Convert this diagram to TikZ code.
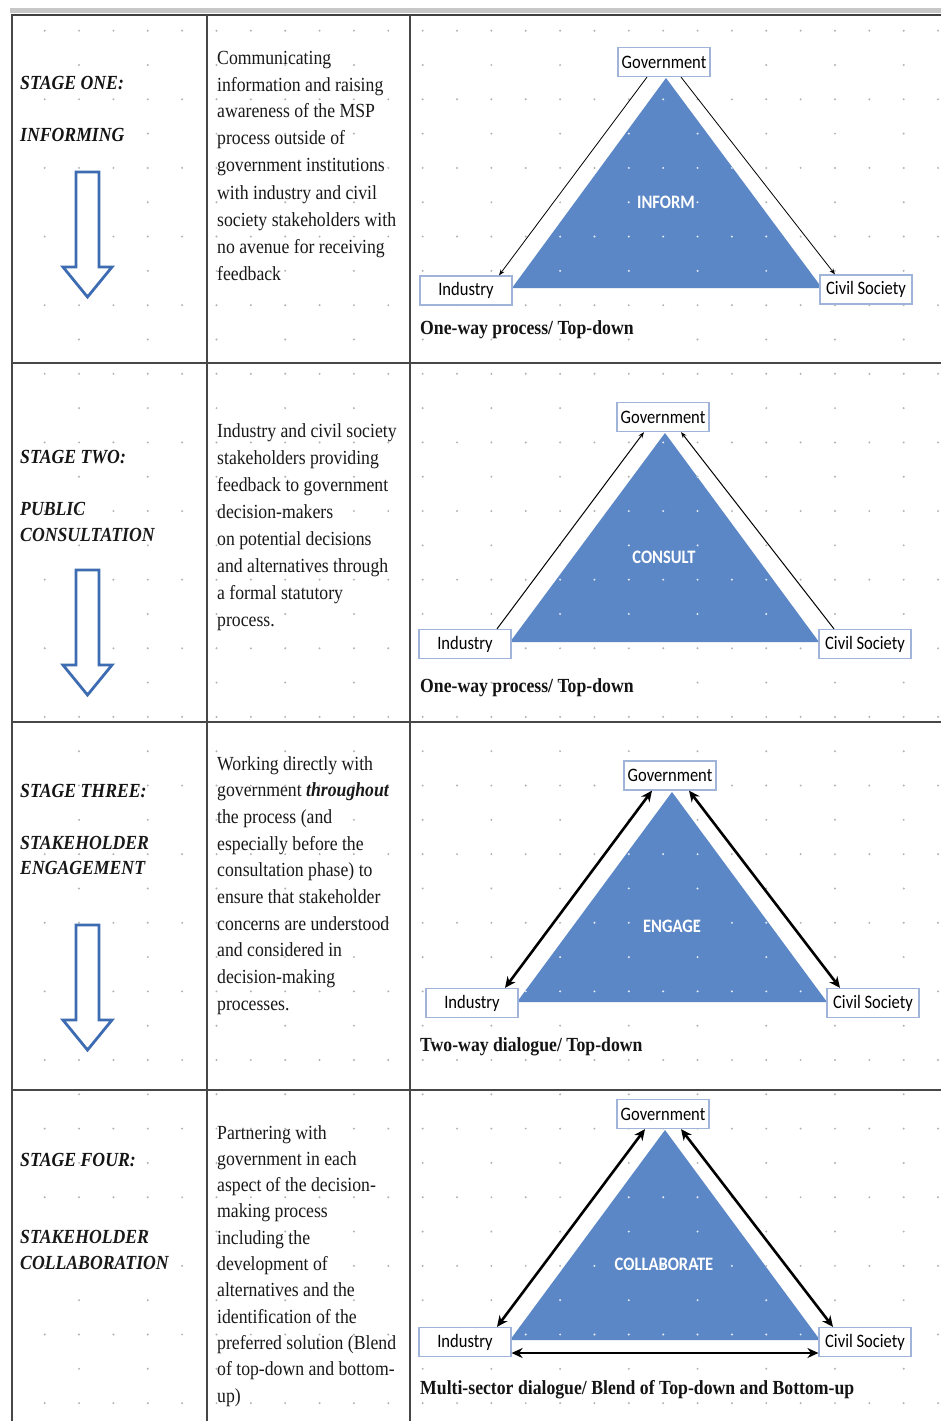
\documentclass[tikz,border=0pt]{standalone}
\usepackage{fontspec}
\setmainfont{Liberation Serif}[FakeStretch=0.885]
\newfontfamily\calib{Carlito}[FakeStretch=0.87]
\usetikzlibrary{arrows.meta,calc}
\definecolor{triblue}{RGB}{91,135,198}
\definecolor{boxline}{RGB}{160,180,218}
\definecolor{arrblue}{RGB}{62,108,178}
\definecolor{dotgray}{RGB}{178,178,178}
\newcommand\mydots[1]{%
 \foreach \k in {0,...,20}{\foreach \j in {0,...,26}{\fill[#1] ({44.7+34.36*\j},{30.7+68.62*\k}) circle (1.1pt);}}%
 \foreach \k in {0,...,19}{\foreach \j in {0,...,12}{\fill[#1] ({79.06+68.72*\j},{65.01+68.62*\k}) circle (1.1pt);}}%
}
\newcommand\mybody[2]{\parbox[t]{200pt}{\fontsize{20}{#1}\selectfont\raggedright #2}}
\newcommand\mytitle[2]{\parbox[t]{180pt}{\fontsize{20}{#1}\selectfont\bfseries\itshape #2}}
\tikzset{
 actor/.style={draw=boxline, line width=1.2pt, fill=white, font=\calib\fontsize{19}{22}\selectfont, minimum width=92pt, minimum height=29pt, inner sep=0pt, text=black},
 trilabel/.style={font=\calib\fontsize{19}{22}\selectfont\bfseries, text=white, inner sep=0pt},
 body/.style={anchor=base west, inner sep=0pt, text=black!90},
 stagelbl/.style={anchor=base west, inner sep=0pt, font=\fontsize{20}{25}\selectfont\bfseries\itshape, text=black!92},
 capt/.style={anchor=base west, inner sep=0pt, font=\fontsize{20}{24}\selectfont\bfseries, text=black!92},
 thinarr/.style={line width=0.8pt, -{Stealth[length=6pt,width=4.5pt]}},
 thickarr/.style={line width=2.6pt, {Stealth[length=11pt,width=10pt]}-{Stealth[length=11pt,width=10pt]}},
 downarr/.style={draw=arrblue, line width=2.8pt, fill=white, line join=miter},
 tri/.style={fill=triblue},
 rulegrid/.style={draw=black!72, line width=1.6pt},
}
\begin{document}
\begin{tikzpicture}[x=1pt,y=-1pt]
\useasboundingbox (0,0) rectangle (941,1421);
\fill[white] (0,0) rectangle (941,1421);
% grid dots
\mydots{dotgray}
% table rules
\fill[black!22] (10,8) rectangle (941,13);
\draw[black!75, line width=1.6pt] (11,15) -- (941,15);
\draw[rulegrid] (12,15) -- (12,1421);
\draw[rulegrid] (207,15) -- (207,1421);
\draw[rulegrid] (410,15) -- (410,1421);
\draw[rulegrid, line width=2pt] (12,363) -- (941,363);
\draw[rulegrid, line width=2pt] (12,722) -- (941,722);
\draw[rulegrid, line width=2pt] (12,1090) -- (941,1090);

% ---------- column 1 ----------
\node[stagelbl] (s1a) at (20,89.3) {STAGE ONE:};
\node[stagelbl] (s1b) at (20,141.7) {INFORMING};
\draw[downarr] (76,172) -- (99,172) -- (99,267) -- (112,267) -- (87.5,297) -- (63,267) -- (76,267) -- cycle;

\node[stagelbl] (s2a) at (20,463) {STAGE TWO:};
\node[body] (s2b) at (20,515) {\mytitle{26}{PUBLIC\\CONSULTATION}};
\draw[downarr] (76,570) -- (99,570) -- (99,665) -- (112,665) -- (87.5,695) -- (63,665) -- (76,665) -- cycle;

\node[stagelbl] (s3a) at (20,797) {STAGE THREE:};
\node[body] (s3b) at (20,849) {\mytitle{25}{STAKEHOLDER\\ENGAGEMENT}};
\draw[downarr] (76,925) -- (99,925) -- (99,1020) -- (112,1020) -- (87.5,1050) -- (63,1020) -- (76,1020) -- cycle;

\node[stagelbl] (s4a) at (20,1166) {STAGE FOUR:};
\node[body] (s4b) at (20,1243) {\mytitle{26}{STAKEHOLDER\\COLLABORATION}};

% ---------- column 2 ----------
\node[body] (t1) at (217,64) {\mybody{27}{Communicating\\information and raising\\awareness of the MSP\\process outside of\\government institutions\\with industry and civil\\society stakeholders with\\no avenue for receiving\\feedback}};
\node[body] (t2) at (217,437) {\mybody{27.1}{Industry and civil society\\stakeholders providing\\feedback to government\\decision-makers\\on potential decisions\\and alternatives through\\a formal statutory\\process.}};
\node[body] (t3) at (217,770) {\mybody{26.7}{Working directly with\\government \textbf{\textit{throughout}}\\the process (and\\especially before the\\consultation phase) to\\ensure that stakeholder\\concerns are understood\\and considered in\\decision-making\\processes.}};
\node[body] (t4) at (217,1139) {\mybody{26.3}{Partnering with\\government in each\\aspect of the decision-\\making process\\including the\\development of\\alternatives and the\\identification of the\\preferred solution (Blend\\of top-down and bottom-\\up)}};

% ---------- column 3: triangles ----------
\fill[tri] (666,78) -- (512,288) -- (822,288) -- cycle;
\fill[tri] (665,433) -- (510,642) -- (819,642) -- cycle;
\fill[tri] (672,792) -- (517,1002) -- (827,1002) -- cycle;
\fill[tri] (665,1130) -- (510,1340) -- (820,1340) -- cycle;
\begin{scope}
\clip (666,78) -- (512,288) -- (822,288) -- cycle
      (665,433) -- (510,642) -- (819,642) -- cycle
      (672,792) -- (517,1002) -- (827,1002) -- cycle
      (665,1130) -- (510,1340) -- (820,1340) -- cycle;
\mydots{white!85!triblue}
\end{scope}

% stage 1
\node[trilabel] (l1) at (666,202) {INFORM};
\node[actor] (g1) at (664,62) {Government};
\node[actor] (i1) at (466,290.5) {Industry};
\node[actor] (c1) at (866,289.5) {Civil Society};
\draw[thinarr] ([xshift=-17pt]g1.south) -- ([xshift=33pt]i1.north);
\draw[thinarr] ([xshift=17pt]g1.south) -- ([xshift=-31pt]c1.north);
\node[capt] (cap1) at (420,334) {One-way process/ Top-down};

% stage 2
\node[trilabel] (l2) at (664,557) {CONSULT};
\node[actor] (g2) at (663,417) {Government};
\node[actor] (i2) at (465,644) {Industry};
\node[actor] (c2) at (865,644) {Civil Society};
\draw[thinarr, line width=1pt] ([xshift=32pt]i2.north) -- ([xshift=-19pt]g2.south);
\draw[thinarr, line width=1pt] ([xshift=-31pt]c2.north) -- ([xshift=18pt]g2.south);
\node[capt] (cap2) at (420,692.7) {One-way process/ Top-down};

% stage 3
\node[trilabel] (l3) at (672,926) {ENGAGE};
\node[actor] (g3) at (670,775.5) {Government};
\node[actor] (i3) at (472,1003) {Industry};
\node[actor] (c3) at (873,1003) {Civil Society};
\draw[thickarr] ([xshift=33pt]i3.north) -- ([xshift=-18pt]g3.south);
\draw[thickarr] ([xshift=19pt]g3.south) -- ([xshift=-33pt]c3.north);
\node[capt] (cap3) at (420,1051.7) {Two-way dialogue/ Top-down};

% stage 4
\node[trilabel] (l4) at (664,1264) {COLLABORATE};
\node[actor] (g4) at (663,1114) {Government};
\node[actor] (i4) at (465,1342) {Industry};
\node[actor] (c4) at (865,1342) {Civil Society};
\draw[thickarr] ([xshift=32pt]i4.north) -- ([xshift=-18pt]g4.south);
\draw[thickarr] ([xshift=18pt]g4.south) -- ([xshift=-32pt]c4.north);
\draw[thickarr] ([yshift=-11pt]i4.east) -- ([yshift=-11pt]c4.west);
\node[capt] (cap4) at (420,1394) {Multi-sector dialogue/ Blend of Top-down and Bottom-up};
\end{tikzpicture}
\end{document}
